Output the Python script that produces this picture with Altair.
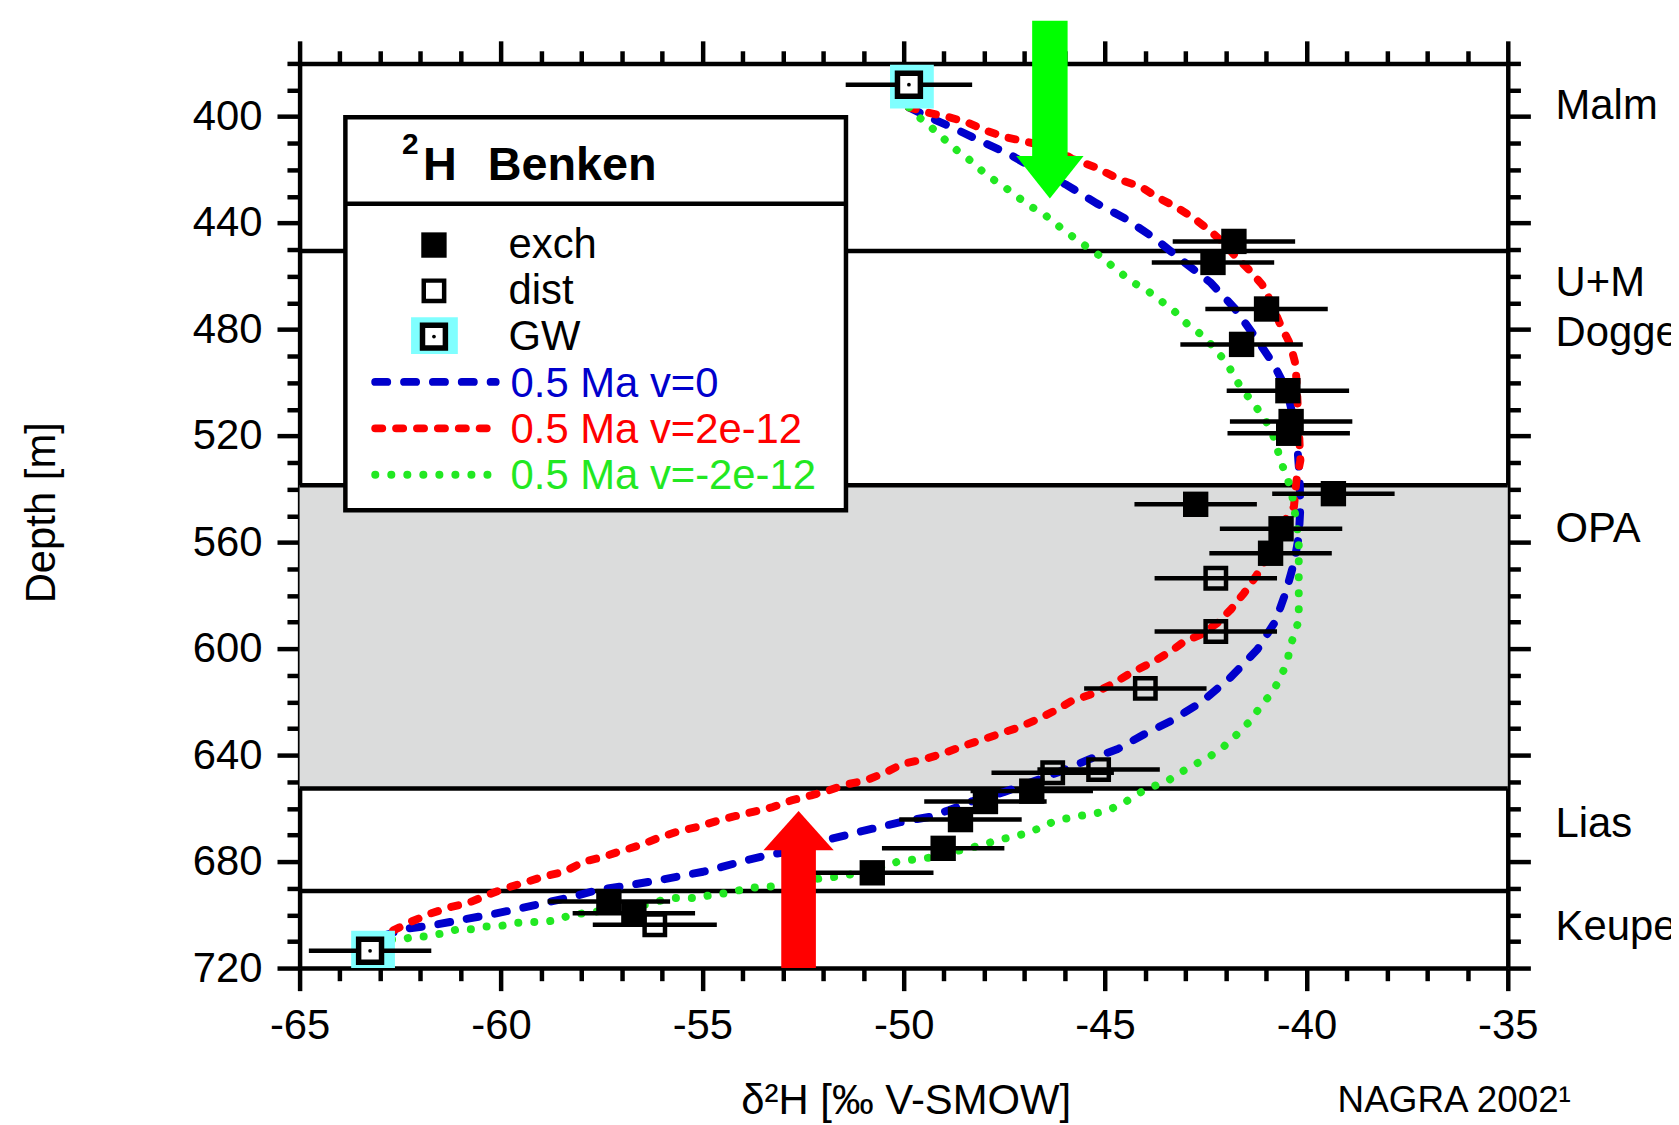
import altair as alt
import pandas as pd

# ---------------- data ----------------
exch_x = [-41.80, -42.32, -40.99, -41.61, -40.46, -40.38, -40.44, -39.33, -42.75,
          -40.63, -40.89, -46.82, -47.97, -48.59, -49.02, -50.78, -57.32, -56.70]
exch_depth = [446.9, 454.8, 472.3, 485.6, 503.0, 514.6, 519.0, 541.7, 545.7,
              554.9, 564.1, 653.5, 657.4, 664.2, 675.0, 684.2, 695.0, 699.4]
exch_err = [1.52] * 18

dist_x = [-42.25, -42.25, -44.00, -45.16, -46.30, -56.18]
dist_depth = [573.5, 593.5, 614.9, 645.4, 646.6, 703.7]
dist_err = [1.52, 1.52, 1.52, 1.52, 1.52, 1.54]

gw_x = [-49.87, -63.25]
gw_depth = [388.0, 713.5]
gw_err = [1.57, 1.52]

# model curves: 0.5 Ma, v = 0
v0_x = [-49.87, -49.46, -48.72, -48.05, -47.40, -46.90, -45.95, -45.21, -44.51, -43.77,
        -43.11, -42.37, -41.79, -41.26, -40.81, -40.48, -40.30, -40.22, -40.17, -40.15,
        -40.19, -40.31, -40.52, -40.77, -41.22, -41.90, -42.62, -43.36, -44.05, -44.70,
        -45.37, -46.16, -46.82, -47.52, -48.30, -48.88, -49.37, -49.87, -50.44, -51.10,
        -51.76, -52.34, -52.92, -53.41, -53.99, -54.49, -54.98, -55.40, -56.05, -56.79,
        -57.61, -58.19, -58.93, -59.59, -60.29, -60.99, -61.73, -62.39, -62.84, -63.17]
v0_depth = [396.5, 399.6, 404.6, 409.5, 413.9, 418.3, 425.7, 432.6, 438.2, 445.7,
            453.8, 462.5, 471.9, 483.1, 493.1, 503.0, 515.0, 525.0, 535.5, 546.7,
            557.9, 567.8, 579.1, 589.7, 600.3, 611.0, 620.2, 627.1, 632.3, 637.8,
            641.4, 646.4, 650.1, 653.9, 657.3, 660.7, 663.2, 664.5, 666.4, 668.8,
            671.3, 673.8, 676.3, 677.7, 679.8, 681.9, 683.8, 685.0, 686.9, 688.8,
            690.7, 693.1, 695.6, 697.8, 700.0, 701.9, 704.0, 705.3, 707.5, 709.3]

# model curves: 0.5 Ma, v = 2e-12
vpos_x = [-49.87, -49.37, -48.88, -48.43, -47.97, -47.48, -46.99, -46.57, -46.08, -45.83,
          -45.26, -44.60, -44.10, -43.73, -43.24, -42.79, -42.37, -42.05, -41.72, -41.43,
          -41.10, -40.95, -40.65, -40.40, -40.27, -40.23, -40.19, -40.15, -40.25, -40.31,
          -40.48, -40.81, -41.06, -41.26, -41.55, -41.88, -42.21, -42.62, -43.03, -43.36,
          -43.77, -44.35, -44.84, -45.34, -45.83, -46.25, -46.66, -47.15, -47.65, -48.06,
          -48.55, -49.05, -49.46, -50.03, -50.44, -50.94, -51.43, -51.85, -52.30, -52.79,
          -53.25, -53.74, -54.24, -54.65, -55.14, -55.64, -56.13, -56.54, -57.08, -57.45,
          -57.94, -58.43, -58.93, -59.34, -59.88, -60.33, -60.82, -61.28, -61.73, -62.22,
          -62.72, -63.21]
vpos_depth = [396.5, 398.6, 400.2, 402.1, 405.2, 407.7, 409.3, 410.8, 413.3, 415.8,
              418.9, 423.9, 426.4, 430.1, 433.9, 438.2, 443.2, 447.6, 453.2, 457.5,
              463.1, 467.5, 478.1, 485.6, 493.1, 504.3, 516.8, 529.2, 537.0, 546.7,
              550.4, 560.4, 567.8, 572.9, 579.1, 585.3, 590.3, 594.7, 597.2, 600.9,
              604.6, 609.0, 613.4, 617.1, 619.6, 623.3, 626.4, 629.6, 632.1, 634.2,
              636.7, 639.5, 641.4, 643.3, 646.4, 649.5, 651.0, 653.2, 655.1, 657.0,
              659.5, 661.3, 663.1, 664.8, 667.0, 668.8, 671.3, 673.8, 676.3, 678.2,
              680.0, 683.8, 685.6, 687.5, 690.0, 692.5, 695.6, 697.2, 699.4, 702.5,
              706.2, 708.7]

# model curves: 0.5 Ma, v = -2e-12
vneg_x = [-49.87, -49.62, -49.37, -48.96, -48.63, -48.30, -47.94, -47.56, -47.23, -46.90,
          -46.49, -46.08, -45.58, -45.17, -44.76, -44.35, -43.93, -43.60, -43.28, -42.95,
          -42.62, -42.29, -41.96, -41.63, -41.30, -41.01, -40.77, -40.65, -40.48, -40.36,
          -40.27, -40.19, -40.19, -40.19, -40.40, -40.48, -40.67, -40.85, -41.14, -41.35,
          -41.72, -42.05, -42.40, -42.75, -43.12, -43.45, -43.86, -44.19, -44.56, -44.93,
          -45.26, -45.63, -46.00, -46.33, -46.66, -46.99, -47.32, -47.69, -48.06, -48.35,
          -48.84, -49.30, -49.87, -50.15, -50.57, -51.10, -51.60, -52.09, -52.67, -53.33,
          -53.82, -54.40, -54.73, -55.14, -55.47, -55.80, -56.13, -56.46, -56.79, -57.20,
          -57.61, -57.94, -58.27, -58.60, -58.93, -59.26, -59.67, -60.08, -60.41, -60.74,
          -61.07, -61.44, -61.81, -62.14, -62.47, -62.80, -63.13]
vneg_depth = [396.5, 400.2, 403.3, 408.9, 413.3, 417.0, 422.0, 425.7, 429.5, 433.2,
              437.0, 442.0, 447.6, 451.9, 456.9, 461.9, 465.6, 469.4, 473.1, 478.1,
              481.8, 486.8, 493.1, 501.8, 508.0, 514.3, 521.7, 529.2, 535.5, 541.7,
              550.4, 559.1, 571.6, 589.4, 599.0, 605.2, 611.5, 616.5, 621.5, 626.4,
              632.1, 636.7, 640.5, 643.3, 646.4, 649.7, 652.0, 654.5, 658.2, 660.7,
              662.0, 662.8, 663.9, 665.3, 667.6, 669.5, 670.7, 672.0, 673.8, 674.8,
              676.6, 678.4, 679.4, 680.0, 682.2, 684.2, 685.6, 686.3, 688.2, 689.4,
              689.8, 691.9, 692.3, 693.8, 693.5, 693.8, 695.0, 696.3, 696.9, 697.5,
              698.7, 699.4, 700.0, 701.9, 702.7, 702.7, 703.1, 704.4, 704.4, 705.4,
              705.4, 706.9, 708.1, 708.1, 709.3, 709.3, 710.0]

boundary_depth = [450.5, 538.5, 652.5, 691.0]
opa_top = [538.5]
opa_bottom = [652.5]

formation_names = ["Malm", "U+M", "Dogger", "OPA", "Lias", "Keuper"]
formation_label_depth = [400.9, 467.5, 486.2, 559.9, 670.6, 709.5]

x_ticks = list(range(-65, -34))
y_ticks = list(range(380, 721, 10))

# arrows: centre x, half width, tail depth, head-base depth, tip depth
arrow_x = [-46.37, -52.61]
arrow_half = [0.44, 0.43]
arrow_tail = [364.0, 720.0]
arrow_base = [414.8, 675.7]
arrow_tip = [430.7, 661.0]

legend_labels = ["exch", "dist", "GW", "0.5 Ma v=0", "0.5 Ma v=2e-12", "0.5 Ma v=-2e-12"]

# ---------------- layout / style ----------------
W, H = 1214, 909
FONT = "Liberation Sans, Arial, sans-serif"
BLUE, RED, GREEN = "#0000cc", "#ff0000", "#22e822"
CYAN, GRAY = "#80ffff", "#dbdcdc"
LW = 8
RW = 4.5
DASH_BLUE, DASH_RED, DASH_GREEN = [12, 17], [7, 14], [0.1, 16]

xs = alt.Scale(domain=[-65, -35], nice=False, zero=False)
ys = alt.Scale(domain=[380, 720], reverse=True, nice=False, zero=False)


def X(f):
    return alt.X(f, type="quantitative", scale=xs, axis=None)


def Y(f):
    return alt.Y(f, type="quantitative", scale=ys, axis=None)


one = pd.DataFrame({"k": [0]})

tick_x = {"condition": {"test": "datum.value % 5 === 0", "value": 22.7}, "value": 12.7}
tick_y = {"condition": {"test": "datum.value % 40 === 0", "value": 22.7}, "value": 12.7}
common = dict(tickWidth=RW, tickColor="black", domainWidth=RW, domainColor="black",
              grid=False, labelFont=FONT, labelFontSize=42, labelColor="black",
              labelFlush=False, labelOverlap=False)

ax_bottom = alt.Axis(orient="bottom", values=x_ticks, tickSize=tick_x,
                     labelExpr="datum.value % 5 === 0 ? '' + datum.value : ''",
                     labelPadding=15, title="δ²H [‰ V-SMOW]", titleFont=FONT,
                     titleFontSize=42, titleFontWeight="normal", titleColor="black",
                     titleX=609, titleY=146, titleAlign="center",
                     titleBaseline="alphabetic", **common)
ax_top = alt.Axis(orient="top", values=x_ticks, tickSize=tick_x, labels=False,
                  title=None, **common)
ax_left = alt.Axis(orient="left", values=y_ticks, tickSize=tick_y,
                   labelExpr="datum.value % 40 === 0 ? '' + datum.value : ''",
                   labelPadding=15, title="Depth [m]", titleFont=FONT,
                   titleFontSize=42, titleFontWeight="normal", titleColor="black",
                   titleAngle=270, titleX=-246, titleY=451, titleAlign="center",
                   titleBaseline="alphabetic", **common)
ax_right = alt.Axis(orient="right", values=y_ticks, tickSize=tick_y, labels=False,
                    title=None, **common)

axes_df = pd.DataFrame({"x": [-50.0], "d": [500.0]})
axes1 = alt.Chart(axes_df).mark_point(opacity=0).encode(
    x=alt.X("x:Q", scale=xs, axis=ax_bottom), y=alt.Y("d:Q", scale=ys, axis=ax_left))
axes2 = alt.Chart(axes_df).mark_point(opacity=0).encode(
    x=alt.X("x:Q", scale=xs, axis=ax_top), y=alt.Y("d:Q", scale=ys, axis=ax_right))

band = alt.Chart(pd.DataFrame({"d": opa_top, "d2": opa_bottom})).mark_rect(
    color=GRAY).encode(y=Y("d"), y2="d2:Q", x=alt.value(0), x2=alt.value(W))

bounds = alt.Chart(pd.DataFrame({"d": boundary_depth})).mark_rule(
    color="black", strokeWidth=RW).encode(y=Y("d"))


def curve(xv, dv, color, dash):
    df = pd.DataFrame({"x": xv, "d": dv, "i": list(range(len(xv)))})
    return alt.Chart(df).mark_line(color=color, strokeWidth=LW, strokeDash=dash,
                                   strokeCap="round", strokeJoin="round").encode(
        x=X("x"), y=Y("d"), order="i:Q")


line_v0 = curve(v0_x, v0_depth, BLUE, DASH_BLUE)
line_vpos = curve(vpos_x, vpos_depth, RED, DASH_RED)
line_vneg = curve(vneg_x, vneg_depth, GREEN, DASH_GREEN)

gw_df = pd.DataFrame({"x": gw_x, "d": gw_depth,
                      "lo": [a - e for a, e in zip(gw_x, gw_err)],
                      "hi": [a + e for a, e in zip(gw_x, gw_err)]})
exch_df = pd.DataFrame({"x": exch_x, "d": exch_depth,
                        "lo": [a - e for a, e in zip(exch_x, exch_err)],
                        "hi": [a + e for a, e in zip(exch_x, exch_err)]})
dist_df = pd.DataFrame({"x": dist_x, "d": dist_depth,
                        "lo": [a - e for a, e in zip(dist_x, dist_err)],
                        "hi": [a + e for a, e in zip(dist_x, dist_err)]})

cyan = alt.Chart(gw_df).mark_square(size=44 * 44, color=CYAN, opacity=1, xOffset=3,
                                    yOffset=2, clip=True).encode(x=X("x"), y=Y("d"))


def errbars(df):
    return alt.Chart(df).mark_rule(color="black", strokeWidth=RW).encode(
        x=X("lo"), x2="hi:Q", y=Y("d"))


exch_pts = alt.Chart(exch_df).mark_square(size=650, filled=True, color="black",
                                          opacity=1).encode(x=X("x"), y=Y("d"))
dist_pts = alt.Chart(dist_df).mark_square(size=420, filled=False, color="black",
                                          strokeWidth=4.5, opacity=1).encode(x=X("x"), y=Y("d"))
gw_pts = alt.Chart(gw_df).mark_square(size=529, fill="white", stroke="black",
                                      strokeWidth=5.5, opacity=1).encode(x=X("x"), y=Y("d"))
gw_dot = alt.Chart(gw_df).mark_circle(size=14, color="black", opacity=1).encode(
    x=X("x"), y=Y("d"))

arrow_df = pd.DataFrame({
    "lo": [a - h for a, h in zip(arrow_x, arrow_half)],
    "hi": [a + h for a, h in zip(arrow_x, arrow_half)],
    "tail": arrow_tail,
    "base": [b + (1.0 if t > b else -1.0) for b, t in zip(arrow_base, arrow_tip)],
    "x": arrow_x,
    "mid": [(b + t) / 2 for b, t in zip(arrow_base, arrow_tip)],
})
g_arrow = arrow_df.iloc[[0]]
r_arrow = arrow_df.iloc[[1]]
g_shaft = alt.Chart(g_arrow).mark_rect(color="#00ff00", clip=False).encode(
    x=X("lo"), x2="hi:Q", y=Y("tail"), y2="base:Q")
r_shaft = alt.Chart(r_arrow).mark_rect(color=RED, clip=False).encode(
    x=X("lo"), x2="hi:Q", y=Y("tail"), y2="base:Q")
g_head = alt.Chart(g_arrow).mark_point(shape="M-1,-0.63L1,-0.63L0,0.63Z", size=4583,
                                       filled=True, color="#00ff00", opacity=1,
                                       strokeWidth=0).encode(x=X("x"), y=Y("mid"))
r_head = alt.Chart(r_arrow).mark_point(shape="M-1,0.558L1,0.558L0,-0.558Z", size=4984,
                                       filled=True, color=RED, opacity=1,
                                       strokeWidth=0).encode(x=X("x"), y=Y("mid"))

# ---------------- hand-built legend box (pixel layout) ----------------
leg_box = alt.Chart(one).mark_rect(fill="white", stroke="black", strokeWidth=RW).encode(
    x=alt.value(46), x2=alt.value(549), y=alt.value(54), y2=alt.value(449))
leg_sep = alt.Chart(one).mark_rule(color="black", strokeWidth=RW).encode(
    x=alt.value(46), x2=alt.value(549), y=alt.value(141))


def txt(text, x, y, size, color="black", weight="normal", align="left"):
    return alt.Chart(one).mark_text(text=text, font=FONT, fontSize=size, color=color,
                                    fontWeight=weight, align=align,
                                    baseline="alphabetic").encode(
        x=alt.value(x), y=alt.value(y))


leg_t2 = txt("2", 103, 91, 30, weight="bold")
leg_tH = txt("H", 124, 117, 47, weight="bold")
leg_tB = txt("Benken", 189, 117, 47, weight="bold")

leg_exch = alt.Chart(one).mark_square(size=650, filled=True, color="black", opacity=1).encode(
    x=alt.value(135), y=alt.value(182.5))
leg_dist = alt.Chart(one).mark_square(size=420, filled=False, color="black", strokeWidth=4.5,
                                      opacity=1).encode(x=alt.value(135), y=alt.value(228.5))
leg_gwbg = alt.Chart(one).mark_rect(color=CYAN).encode(
    x=alt.value(112), x2=alt.value(159), y=alt.value(255), y2=alt.value(292))
leg_gw = alt.Chart(one).mark_square(size=529, fill="white", stroke="black", strokeWidth=5.5,
                                    opacity=1).encode(x=alt.value(135), y=alt.value(274.5))
leg_gwdot = alt.Chart(one).mark_circle(size=14, color="black", opacity=1).encode(
    x=alt.value(135), y=alt.value(274.5))


def leg_line(color, dash, y, x2):
    return alt.Chart(one).mark_rule(color=color, strokeWidth=LW, strokeDash=dash,
                                    strokeCap="round").encode(
        x=alt.value(76), x2=alt.value(x2), y=alt.value(y))


leg_l1 = leg_line(BLUE, DASH_BLUE, 320, 197)
leg_l2 = leg_line(RED, DASH_RED, 366.7, 197)
leg_l3 = leg_line(GREEN, DASH_GREEN, 413.3, 194)

leg_texts = [
    txt(legend_labels[0], 210, 196, 42),
    txt(legend_labels[1], 210, 242, 42),
    txt(legend_labels[2], 210, 288, 42),
    txt(legend_labels[3], 212, 335, 42, color=BLUE),
    txt(legend_labels[4], 212, 381, 42, color=RED),
    txt(legend_labels[5], 212, 428, 42, color=GREEN),
]

form_labels = alt.Chart(pd.DataFrame({"name": formation_names,
                                      "d": formation_label_depth})).mark_text(
    font=FONT, fontSize=42, color="black", align="left", baseline="alphabetic").encode(
    x=alt.value(1262), y=Y("d"), text="name:N")

nagra = txt("NAGRA 2002¹", 1043, 1054, 37)

chart = alt.layer(
    band, axes1, axes2, bounds, line_v0, line_vpos, line_vneg, cyan,
    errbars(exch_df), errbars(dist_df), errbars(gw_df),
    exch_pts, dist_pts, gw_pts, gw_dot,
    g_shaft, g_head, r_shaft, r_head,
    leg_box, leg_sep, leg_t2, leg_tH, leg_tB,
    leg_exch, leg_dist, leg_gwbg, leg_gw, leg_gwdot,
    leg_l1, leg_l2, leg_l3, *leg_texts,
    form_labels, nagra,
).resolve_axis(x="independent", y="independent").properties(
    width=W, height=H,
    autosize=alt.AutoSizeParams(type="none"),
    padding={"left": 293, "top": 53, "right": 164, "bottom": 155},
).configure_view(stroke=None)

chart.save("out.html", embed_options={"renderer": "svg", "actions": False})
